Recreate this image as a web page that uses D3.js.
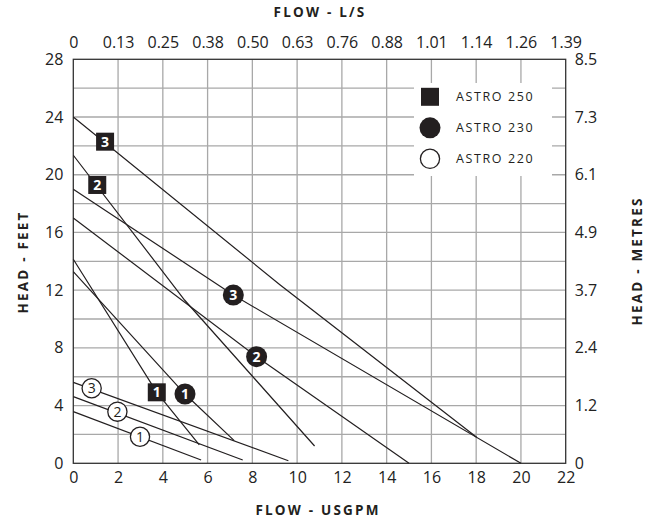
<!DOCTYPE html>
<html>
<head>
<meta charset="utf-8">
<script src="https://cdn.jsdelivr.net/npm/d3@7"></script>
<style>
  body { margin: 0; background: #fff; }
  svg { display: block; font-family: "Open Sans", sans-serif; }
</style>
</head>
<body>
<svg id="chart" width="647" height="522"></svg>
<script>
// axis ticks
var flowTicks = [0, 2, 4, 6, 8, 10, 12, 14, 16, 18, 20, 22]
var lpsLabels = ["0", "0.13", "0.25", "0.38", "0.50", "0.63", "0.76", "0.88", "1.01", "1.14", "1.26", "1.39"]
var headTicks = [0, 4, 8, 12, 16, 20, 24, 28]
var metreLabels = ["0", "1.2", "2.4", "3.7", "4.9", "6.1", "7.3", "8.5"]

// pump curves, [usgpm, feet]
var astro250Speed3 = [[0, 24], [9.23, 12.38], [18.02, 1.8]]
var astro250Speed2 = [[0, 21.35], [4.98, 11.3], [10.78, 1.2]]
var astro250Speed1 = [[0, 14.14], [3.73, 4.92], [5.63, 1.27]]
var astro230Speed3 = [[0, 19], [7.15, 11.66], [20, 0]]
var astro230Speed2 = [[0, 17], [8.19, 7.39], [15, 0]]
var astro230Speed1 = [[0, 13.28], [4.99, 4.8], [7.19, 1.57]]
var astro220Speed3 = [[0, 5.61], [9.61, 0.18]]
var astro220Speed2 = [[0, 4.62], [7.57, 0.23]]
var astro220Speed1 = [[0, 3.58], [5.71, 0.23]]

// speed badges: [usgpm, feet, speed]
var astro250Badges = [[1.42, 22.29, 3], [1.07, 19.29, 2], [3.73, 4.92, 1]]
var astro230Badges = [[7.15, 11.66, 3], [8.19, 7.39, 2], [4.99, 4.8, 1]]
var astro220Badges = [[0.82, 5.2, 3], [1.97, 3.58, 2], [2.98, 1.84, 1]]

var legendNames = ["ASTRO 250", "ASTRO 230", "ASTRO 220"]

var ink = "#231f20"
var margin = { top: 59.3, left: 73.3 }
var width = 492.4
var height = 404

var svg = d3.select("#chart")
var g = svg.append("g")
  .attr("transform", "translate(" + margin.left + "," + margin.top + ")")

var x = d3.scaleLinear().domain([0, 22]).range([0, width])
var y = d3.scaleLinear().domain([0, 28]).range([height, 0])

// grid
var grid = g.append("g").attr("stroke", "#a8a8a8").attr("stroke-width", 1.3)
grid.selectAll(".vx")
  .data(d3.range(2, 22, 2))
  .enter().append("line")
  .attr("x1", function(d) { return x(d) })
  .attr("x2", function(d) { return x(d) })
  .attr("y1", 0).attr("y2", height)
grid.selectAll(".hy")
  .data(d3.range(2, 28, 2))
  .enter().append("line")
  .attr("y1", function(d) { return y(d) })
  .attr("y2", function(d) { return y(d) })
  .attr("x1", 0).attr("x2", width)

// frame
g.append("rect")
  .attr("width", width).attr("height", height)
  .attr("fill", "none").attr("stroke", "#333").attr("stroke-width", 1.3)

// axes
function styleAxis(sel) {
  sel.select(".domain").remove()
  sel.selectAll(".tick line").remove()
  sel.selectAll("text")
    .attr("font-size", "16px")
    .attr("fill", "#222")
    .attr("font-family", "Open Sans, sans-serif")
}
g.append("g")
  .attr("transform", "translate(0," + height + ")")
  .call(d3.axisBottom(x).tickValues(flowTicks).tickSize(0).tickPadding(8))
  .call(styleAxis)
g.append("g")
  .call(d3.axisTop(x).tickValues(flowTicks).tickSize(0).tickPadding(11)
    .tickFormat(function(d, i) { return lpsLabels[i] }))
  .call(styleAxis)
g.append("g")
  .call(d3.axisLeft(y).tickValues(headTicks).tickSize(0).tickPadding(10))
  .call(styleAxis)
g.append("g")
  .attr("transform", "translate(" + width + ",0)")
  .call(d3.axisRight(y).tickValues(headTicks).tickSize(0).tickPadding(9)
    .tickFormat(function(d, i) { return metreLabels[i] }))
  .call(styleAxis)

// titles
function title(txt) {
  return svg.append("text")
    .attr("text-anchor", "middle")
    .attr("font-size", "13.5px")
    .attr("font-weight", "bold")
    .attr("letter-spacing", "2.2px")
    .attr("fill", ink)
    .text(txt)
}
title("FLOW - L/S").attr("x", 320).attr("y", 17)
title("FLOW - USGPM").attr("x", 318).attr("y", 515)
title("HEAD - FEET").attr("transform", "translate(28,262) rotate(-90)")
title("HEAD - METRES").attr("transform", "translate(642,261) rotate(-90)")

// curves
var line = d3.line()
  .x(function(d) { return x(d[0]) })
  .y(function(d) { return y(d[1]) })
var curves = [astro250Speed3, astro250Speed2, astro250Speed1,
  astro230Speed3, astro230Speed2, astro230Speed1,
  astro220Speed3, astro220Speed2, astro220Speed1]
g.append("g").selectAll("path")
  .data(curves)
  .enter().append("path")
  .attr("d", line)
  .attr("fill", "none")
  .attr("stroke", ink)
  .attr("stroke-width", 1.2)

// badges
function badgeShape(sel, kind) {
  if (kind === "square") {
    sel.append("rect")
      .attr("x", -9).attr("y", -9).attr("width", 18).attr("height", 18)
      .attr("fill", ink)
  } else if (kind === "dot") {
    sel.append("circle").attr("r", 10.5).attr("fill", ink)
  } else {
    sel.append("circle").attr("r", 9.6)
      .attr("fill", "#fff").attr("stroke", ink).attr("stroke-width", 1.3)
  }
}
function badges(data, kind) {
  var b = g.append("g").selectAll("g")
    .data(data)
    .enter().append("g")
    .attr("transform", function(d) { return "translate(" + x(d[0]) + "," + y(d[1]) + ")" })
  badgeShape(b, kind)
  b.append("text")
    .attr("text-anchor", "middle")
    .attr("dy", "0.36em")
    .attr("font-size", "14px")
    .attr("font-weight", kind === "open" ? "normal" : "bold")
    .attr("fill", kind === "open" ? ink : "#fff")
    .text(function(d) { return d[2] })
}
badges(astro250Badges, "square")
badges(astro230Badges, "dot")
badges(astro220Badges, "open")

// legend
var legend = svg.append("g")
legend.append("rect")
  .attr("x", 414).attr("y", 83).attr("width", 138).attr("height", 93)
  .attr("fill", "#fff")
var kinds = ["square", "dot", "open"]
legendNames.forEach(function(name, i) {
  var row = legend.append("g")
    .attr("transform", "translate(430," + (96.8 + i * 31) + ")")
  badgeShape(row, kinds[i])
  row.append("text")
    .attr("x", 26)
    .attr("dy", "0.36em")
    .attr("font-size", "12.5px")
    .attr("letter-spacing", "1.6px")
    .attr("fill", ink)
    .text(name)
})
</script>
</body>
</html>
